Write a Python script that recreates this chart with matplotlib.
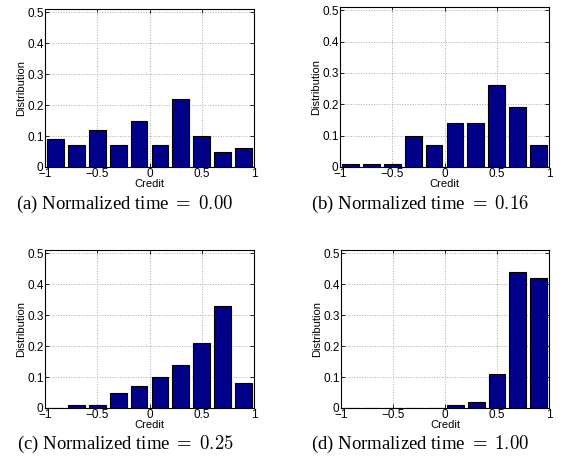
import numpy as np
import matplotlib.pyplot as plt

# bin centres of the credit histogram
credit = [-0.9, -0.7, -0.5, -0.3, -0.1, 0.1, 0.3, 0.5, 0.7, 0.9]

dist_a = [0.09, 0.07, 0.12, 0.07, 0.15, 0.07, 0.22, 0.10, 0.05, 0.06]
dist_b = [0.01, 0.01, 0.01, 0.10, 0.07, 0.14, 0.14, 0.26, 0.19, 0.07]
dist_c = [0.00, 0.01, 0.01, 0.05, 0.07, 0.10, 0.14, 0.21, 0.33, 0.08]
dist_d = [0.00, 0.00, 0.00, 0.00, 0.00, 0.01, 0.02, 0.11, 0.44, 0.42]

captions = ['(a) Normalized time $=$ $0.00$', '(b) Normalized time $=$ $0.16$',
            '(c) Normalized time $=$ $0.25$', '(d) Normalized time $=$ $1.00$']

plt.rcParams['font.family'] = ['Liberation Sans', 'DejaVu Sans']
plt.rcParams['mathtext.fontset'] = 'cm'

W, H = 564, 475
fig = plt.figure(figsize=(W / 100, H / 100), dpi=100)

# axes boxes in pixels: left, top, right, bottom
boxes = [(45, 9, 254, 167), (340, 7, 549, 167),
         (45, 250, 254, 408), (341, 250, 549, 408)]
cap_pos = [(125, 204), (420, 204), (125, 444), (420, 444)]
data = [dist_a, dist_b, dist_c, dist_d]

for box, vals, cap, cp in zip(boxes, data, captions, cap_pos):
    l, t, r, b = box
    ax = fig.add_axes([l / W, 1 - b / H, (r - l) / W, (b - t) / H])
    ax.bar(credit, vals, width=0.16, color='#000088', edgecolor='black', linewidth=0.8, zorder=3)
    ax.set_xlim(-1, 1)
    ax.set_ylim(0, 0.51)
    ax.set_xticks([-1, -0.5, 0, 0.5, 1])
    ax.set_xticklabels(['\u22121', '\u22120.5', '0', '0.5', '1'])
    ax.set_yticks([0, 0.1, 0.2, 0.3, 0.4, 0.5])
    ax.set_yticklabels(['0', '0.1', '0.2', '0.3', '0.4', '0.5'])
    ax.tick_params(direction='in', length=3, width=0.6, labelsize=8.5, pad=1,
                   top=True, right=True)
    ax.grid(True, linestyle=':', color='#aaaaaa', linewidth=0.7, zorder=0)
    for s in ax.spines.values():
        s.set_linewidth(0.8)
    ax.set_xlabel('Credit', fontsize=8, labelpad=-1)
    ax.set_ylabel('Distribution', fontsize=8, labelpad=1)
    fig.text(cp[0] / W, 1 - cp[1] / H, cap, ha='center', va='center',
             fontsize=13.5, family='Liberation Serif')

fig.savefig('out.png', dpi=100)
